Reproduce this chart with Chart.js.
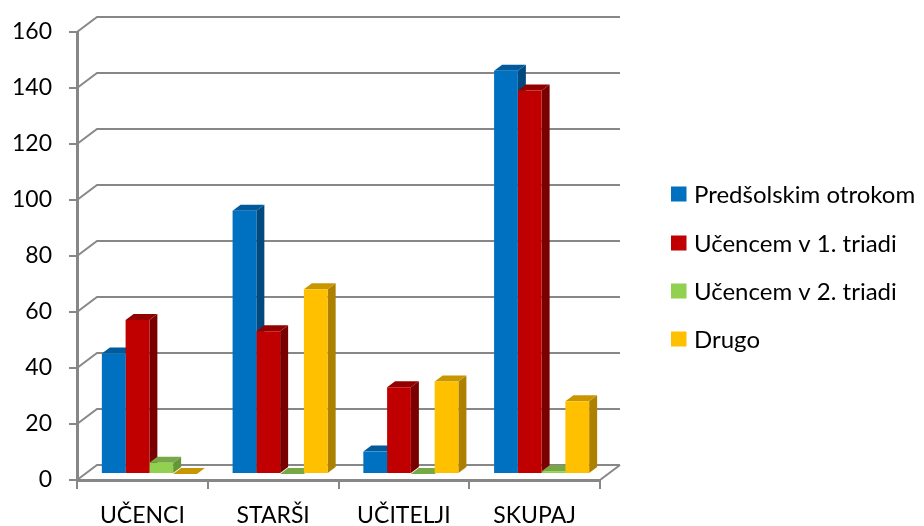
<!DOCTYPE html>
<html>
<head>
<meta charset="utf-8">
<script src="https://cdn.jsdelivr.net/npm/chart.js@4/dist/chart.umd.min.js"></script>
<style>
  html, body { margin: 0; padding: 0; background: #ffffff; }
  #wrap { width: 924px; height: 526px; position: relative; }
</style>
</head>
<body>
<div id="wrap"><canvas id="c" width="924" height="526"></canvas></div>
<script>
// Categories and series
const categories = ['UČENCI', 'STARŠI', 'UČITELJI', 'SKUPAJ'];
const seriesNames = ['Predšolskim otrokom', 'Učencem v 1. triadi', 'Učencem v 2. triadi', 'Drugo'];
const predsolski = [43, 94, 8, 144];
const triada1 = [55, 51, 31, 137];
const triada2 = [4, 0, 0, 1];
const drugo = [0, 66, 33, 26];
const yTicks = [0, 20, 40, 60, 80, 100, 120, 140, 160];

// Face colours: front, side, top
const palette = [
  { front: '#0070C0', side: '#00497E', top: '#005A9C' },
  { front: '#C00000', side: '#7A0000', top: '#930000' },
  { front: '#92D050', side: '#66963A', top: '#76A845' },
  { front: '#FFC000', side: '#AD8000', top: '#C89600' }
];

const FONT = 'Lato, "Open Sans", sans-serif';
const GRID = '#878787';
// depth of the floor / back wall and of a bar, in pixels
const WALL = { dx: 20, dy: -15 };
const BAR_SHIFT = { dx: 7, dy: -6 };
const BAR_DEPTH = { dx: 8, dy: -6 };

// Back wall gridlines, left wall diagonals and the floor's right edge
const wallPlugin = {
  id: 'wall',
  beforeDatasetsDraw(chart) {
    const { ctx, chartArea: a, scales: { y } } = chart;
    ctx.save();
    ctx.strokeStyle = GRID;
    ctx.lineWidth = 2;
    yTicks.forEach(v => {
      const py = y.getPixelForValue(v);
      ctx.beginPath();
      ctx.moveTo(a.left, py);
      ctx.lineTo(a.left + WALL.dx, py + WALL.dy);
      ctx.lineTo(a.right + WALL.dx, py + WALL.dy);
      ctx.stroke();
    });
    const p0 = y.getPixelForValue(0);
    ctx.beginPath();
    ctx.moveTo(a.right, p0);
    ctx.lineTo(a.right + WALL.dx, p0 + WALL.dy);
    ctx.stroke();
    ctx.restore();

    // bars sit a little behind the front plane
    ctx.save();
    ctx.translate(BAR_SHIFT.dx, BAR_SHIFT.dy);
    chart.data.datasets.forEach((ds, di) => {
      const meta = chart.getDatasetMeta(di);
      const col = palette[di];
      meta.data.forEach(bar => {
        const left = bar.x - bar.width / 2;
        const right = bar.x + bar.width / 2;
        const top = bar.y;
        const base = bar.base;
        // side face
        ctx.fillStyle = col.side;
        ctx.beginPath();
        ctx.moveTo(right, base);
        ctx.lineTo(right + BAR_DEPTH.dx, base + BAR_DEPTH.dy);
        ctx.lineTo(right + BAR_DEPTH.dx, top + BAR_DEPTH.dy);
        ctx.lineTo(right, top);
        ctx.closePath();
        ctx.fill();
        // top face
        ctx.fillStyle = col.top;
        ctx.beginPath();
        ctx.moveTo(left, top);
        ctx.lineTo(right, top);
        ctx.lineTo(right + BAR_DEPTH.dx, top + BAR_DEPTH.dy);
        ctx.lineTo(left + BAR_DEPTH.dx, top + BAR_DEPTH.dy);
        ctx.closePath();
        ctx.fill();
      });
    });
  },
  afterDatasetsDraw(chart) {
    chart.ctx.restore();
  },
  afterDraw(chart) {
    // legend
    const { ctx } = chart;
    ctx.save();
    ctx.font = '24px ' + FONT;
    ctx.textBaseline = 'middle';
    ctx.textAlign = 'left';
    const rows = [194, 243, 291, 339];
    seriesNames.forEach((name, i) => {
      ctx.fillStyle = palette[i].front;
      ctx.fillRect(671, rows[i] - 7.5, 15.5, 15);
      ctx.fillStyle = '#000000';
      ctx.fillText(name, 694, rows[i] + 1);
    });
    ctx.restore();
  }
};

const datasets = [predsolski, triada1, triada2, drugo].map((values, i) => ({
  label: seriesNames[i],
  data: values,
  backgroundColor: palette[i].front,
  borderWidth: 0,
  categoryPercentage: 0.727,
  barPercentage: 1.0,
  clip: false
}));

new Chart(document.getElementById('c'), {
  type: 'bar',
  data: { labels: categories, datasets },
  options: {
    responsive: false,
    animation: false,
    devicePixelRatio: 1,
    layout: { padding: { top: 32, right: 324, bottom: 0, left: 0 } },
    plugins: { legend: { display: false }, tooltip: { enabled: false } },
    scales: {
      x: {
        grid: { display: true, drawOnChartArea: false, drawTicks: true, tickLength: 9, color: GRID, lineWidth: 2, offset: true },
        border: { display: true, color: GRID, width: 3 },
        ticks: { color: '#000000', font: { family: FONT, size: 23 }, padding: 13, maxRotation: 0 },
        afterFit(scale) { scale.height = 46; }
      },
      y: {
        min: 0,
        max: 160,
        afterBuildTicks(scale) { scale.ticks = yTicks.map(v => ({ value: v })); },
        grid: { display: true, drawOnChartArea: false, drawTicks: true, tickLength: 8, color: GRID, lineWidth: 2 },
        border: { display: true, color: GRID, width: 3 },
        ticks: { color: '#000000', font: { family: FONT, size: 23 }, padding: 17 },
        afterFit(scale) { scale.width = 77; }
      }
    }
  },
  plugins: [wallPlugin]
});
</script>
</body>
</html>
